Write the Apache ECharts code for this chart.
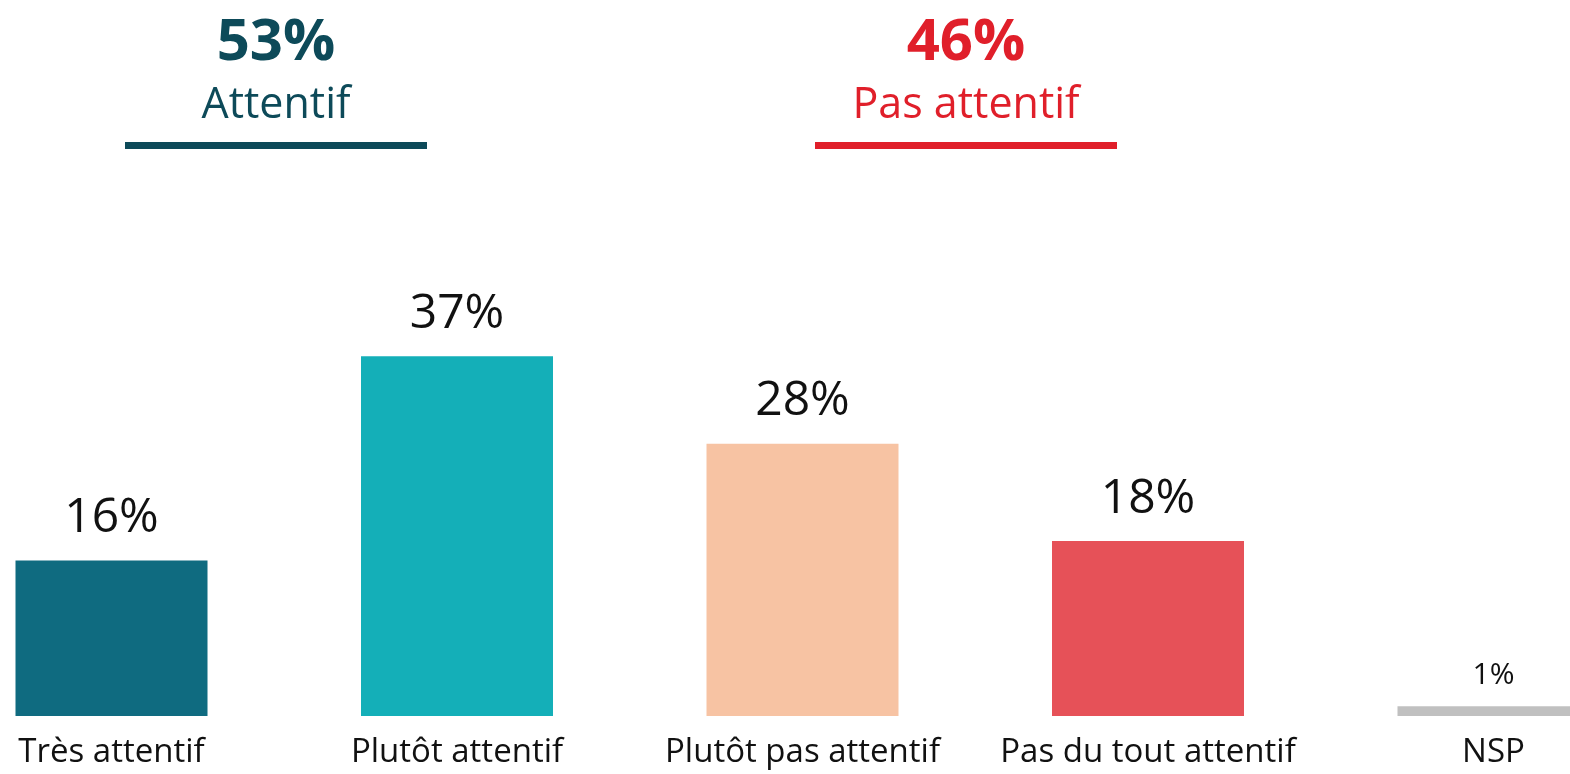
<!DOCTYPE html>
<html>
<head>
<meta charset="utf-8">
<script src="https://cdn.jsdelivr.net/npm/echarts@6/dist/echarts.min.js"></script>
<style>
html,body{margin:0;padding:0;background:#fff;}
#chart{width:1570px;height:774px;}
</style>
</head>
<body>
<div id="chart"></div>
<script>
// ---- data ----
const categories = ['Très attentif', 'Plutôt attentif', 'Plutôt pas attentif', 'Pas du tout attentif', 'NSP'];
const values = [16, 37, 28, 18, 1];
const groupTotals = [53, 46];
const groupNames = ['Attentif', 'Pas attentif'];

// ---- styles ----
const barColors = ['#0f6b80', '#14afb8', '#f7c3a3', '#e65158', '#c0c0c0'];
const groupColors = ['#0d4a59', '#e01f2a'];
const FONT = '"Open Sans", sans-serif';

const chart = echarts.init(document.getElementById('chart'));

const seriesData = values.map((v, i) => {
  const item = { value: v, itemStyle: { color: barColors[i] } };
  if (i === values.length - 1) {
    item.label = { fontSize: 30, distance: 16 };
  }
  return item;
});

const groupCenters = [276, 966];
const graphics = [];
groupTotals.forEach((t, i) => {
  const cx = groupCenters[i];
  graphics.push({
    type: 'text', x: cx, y: 14,
    style: { text: t + '%', fill: groupColors[i], font: 'bold 58px ' + FONT, textAlign: 'center' }
  });
  graphics.push({
    type: 'text', x: cx, y: 84,
    style: { text: groupNames[i], fill: groupColors[i], font: '43px ' + FONT, textAlign: 'center' }
  });
  graphics.push({
    type: 'rect', shape: { x: cx - 151, y: 142, width: 302, height: 7 },
    style: { fill: groupColors[i] }
  });
});

chart.setOption({
  animation: false,
  grid: { left: -61.25, width: 1727.5, top: 327, height: 389, containLabel: false, outerBoundsMode: 'none' },
  xAxis: {
    type: 'category',
    data: categories,
    axisLine: { show: false },
    axisTick: { show: false },
    axisLabel: { color: '#111', fontSize: 33, fontFamily: FONT, margin: 20, interval: 0 }
  },
  yAxis: {
    type: 'value', min: 0, max: 40,
    show: false,
    splitLine: { show: false }
  },
  series: [{
    type: 'bar',
    data: seriesData,
    barWidth: 192,
    label: {
      show: true, position: 'top', distance: 18,
      formatter: p => p.value + '%',
      color: '#111', fontSize: 48, fontFamily: FONT
    }
  }],
  graphic: graphics
});
</script>
</body>
</html>
